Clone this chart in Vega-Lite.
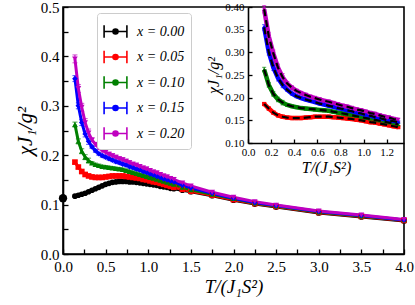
{
"$schema": "https://vega.github.io/schema/vega-lite/v6.json",
"width": 341, "height": 247,
"autosize": "none",
"padding": {"left": 63, "top": 7, "right": 11, "bottom": 51},
"config": {"font": "Liberation Serif", "view": {"stroke": "black", "strokeWidth": 1.6},
  "axis": {"grid": false, "labelFont": "Liberation Serif", "titleFont": "Liberation Serif", "labelFlush": false, "domainColor": "black", "domainWidth": 1.6, "tickColor": "black", "tickWidth": 1.3, "labelColor": "black", "titleColor": "black", "labelOverlap": false, "titleFontWeight": "normal", "titleFontStyle": "italic"},
  "legend": {"labelFont": "Liberation Serif"}},
"datasets": {
"z": [{"T": 0.0, "v": 0.113}],
"d": [
{"s":"x = 0.00","T":0.14,"v":0.117,"e":0.002},{"s":"x = 0.00","T":0.18,"v":0.119,"e":0.002},{"s":"x = 0.00","T":0.22,"v":0.121,"e":0.002},{"s":"x = 0.00","T":0.26,"v":0.123,"e":0.002},{"s":"x = 0.00","T":0.30,"v":0.126,"e":0.002},{"s":"x = 0.00","T":0.34,"v":0.129,"e":0.002},{"s":"x = 0.00","T":0.38,"v":0.132,"e":0.002},{"s":"x = 0.00","T":0.42,"v":0.135,"e":0.002},{"s":"x = 0.00","T":0.46,"v":0.138,"e":0.002},{"s":"x = 0.00","T":0.50,"v":0.141,"e":0.002},{"s":"x = 0.00","T":0.54,"v":0.143,"e":0.002},{"s":"x = 0.00","T":0.58,"v":0.145,"e":0.002},{"s":"x = 0.00","T":0.62,"v":0.146,"e":0.002},{"s":"x = 0.00","T":0.66,"v":0.147,"e":0.002},{"s":"x = 0.00","T":0.70,"v":0.147,"e":0.002},{"s":"x = 0.00","T":0.74,"v":0.147,"e":0.002},{"s":"x = 0.00","T":0.78,"v":0.146,"e":0.002},{"s":"x = 0.00","T":0.82,"v":0.146,"e":0.002},{"s":"x = 0.00","T":0.86,"v":0.145,"e":0.002},{"s":"x = 0.00","T":0.90,"v":0.144,"e":0.002},{"s":"x = 0.00","T":0.94,"v":0.143,"e":0.002},{"s":"x = 0.00","T":0.98,"v":0.142,"e":0.002},{"s":"x = 0.00","T":1.02,"v":0.141,"e":0.002},{"s":"x = 0.00","T":1.06,"v":0.140,"e":0.002},{"s":"x = 0.00","T":1.10,"v":0.139,"e":0.002},{"s":"x = 0.00","T":1.14,"v":0.137,"e":0.002},{"s":"x = 0.00","T":1.18,"v":0.136,"e":0.002},{"s":"x = 0.00","T":1.22,"v":0.135,"e":0.002},{"s":"x = 0.00","T":1.26,"v":0.133,"e":0.002},{"s":"x = 0.00","T":1.30,"v":0.132,"e":0.002},{"s":"x = 0.00","T":1.40,"v":0.129,"e":0.002},{"s":"x = 0.00","T":1.50,"v":0.126,"e":0.002},{"s":"x = 0.00","T":1.75,"v":0.118,"e":0.002},{"s":"x = 0.00","T":2.00,"v":0.109,"e":0.002},{"s":"x = 0.00","T":2.25,"v":0.101,"e":0.002},{"s":"x = 0.00","T":2.50,"v":0.095,"e":0.002},{"s":"x = 0.00","T":3.00,"v":0.083,"e":0.002},{"s":"x = 0.00","T":3.50,"v":0.075,"e":0.002},{"s":"x = 0.00","T":4.00,"v":0.067,"e":0.002},
{"s":"x = 0.05","T":0.14,"v":0.186,"e":0.003},{"s":"x = 0.05","T":0.18,"v":0.176,"e":0.003},{"s":"x = 0.05","T":0.22,"v":0.167,"e":0.003},{"s":"x = 0.05","T":0.26,"v":0.161,"e":0.003},{"s":"x = 0.05","T":0.30,"v":0.158,"e":0.003},{"s":"x = 0.05","T":0.34,"v":0.156,"e":0.002},{"s":"x = 0.05","T":0.38,"v":0.155,"e":0.002},{"s":"x = 0.05","T":0.42,"v":0.155,"e":0.002},{"s":"x = 0.05","T":0.46,"v":0.155,"e":0.002},{"s":"x = 0.05","T":0.50,"v":0.156,"e":0.002},{"s":"x = 0.05","T":0.54,"v":0.157,"e":0.002},{"s":"x = 0.05","T":0.58,"v":0.158,"e":0.002},{"s":"x = 0.05","T":0.62,"v":0.158,"e":0.002},{"s":"x = 0.05","T":0.66,"v":0.158,"e":0.002},{"s":"x = 0.05","T":0.70,"v":0.158,"e":0.002},{"s":"x = 0.05","T":0.74,"v":0.157,"e":0.002},{"s":"x = 0.05","T":0.78,"v":0.156,"e":0.002},{"s":"x = 0.05","T":0.82,"v":0.155,"e":0.002},{"s":"x = 0.05","T":0.86,"v":0.154,"e":0.002},{"s":"x = 0.05","T":0.90,"v":0.153,"e":0.002},{"s":"x = 0.05","T":0.94,"v":0.151,"e":0.002},{"s":"x = 0.05","T":0.98,"v":0.150,"e":0.002},{"s":"x = 0.05","T":1.02,"v":0.148,"e":0.002},{"s":"x = 0.05","T":1.06,"v":0.146,"e":0.002},{"s":"x = 0.05","T":1.10,"v":0.145,"e":0.002},{"s":"x = 0.05","T":1.14,"v":0.143,"e":0.002},{"s":"x = 0.05","T":1.18,"v":0.141,"e":0.002},{"s":"x = 0.05","T":1.22,"v":0.139,"e":0.002},{"s":"x = 0.05","T":1.26,"v":0.137,"e":0.002},{"s":"x = 0.05","T":1.30,"v":0.135,"e":0.002},{"s":"x = 0.05","T":1.40,"v":0.131,"e":0.002},{"s":"x = 0.05","T":1.50,"v":0.127,"e":0.002},{"s":"x = 0.05","T":1.75,"v":0.119,"e":0.002},{"s":"x = 0.05","T":2.00,"v":0.110,"e":0.002},{"s":"x = 0.05","T":2.25,"v":0.102,"e":0.002},{"s":"x = 0.05","T":2.50,"v":0.096,"e":0.002},{"s":"x = 0.05","T":3.00,"v":0.084,"e":0.002},{"s":"x = 0.05","T":3.50,"v":0.076,"e":0.002},{"s":"x = 0.05","T":4.00,"v":0.068,"e":0.002},
{"s":"x = 0.10","T":0.14,"v":0.262,"e":0.005},{"s":"x = 0.10","T":0.18,"v":0.228,"e":0.005},{"s":"x = 0.10","T":0.22,"v":0.208,"e":0.005},{"s":"x = 0.10","T":0.26,"v":0.196,"e":0.005},{"s":"x = 0.10","T":0.30,"v":0.189,"e":0.005},{"s":"x = 0.10","T":0.34,"v":0.184,"e":0.003},{"s":"x = 0.10","T":0.38,"v":0.181,"e":0.003},{"s":"x = 0.10","T":0.42,"v":0.179,"e":0.003},{"s":"x = 0.10","T":0.46,"v":0.177,"e":0.003},{"s":"x = 0.10","T":0.50,"v":0.176,"e":0.003},{"s":"x = 0.10","T":0.54,"v":0.175,"e":0.003},{"s":"x = 0.10","T":0.58,"v":0.174,"e":0.003},{"s":"x = 0.10","T":0.62,"v":0.173,"e":0.003},{"s":"x = 0.10","T":0.66,"v":0.172,"e":0.003},{"s":"x = 0.10","T":0.70,"v":0.171,"e":0.003},{"s":"x = 0.10","T":0.74,"v":0.169,"e":0.003},{"s":"x = 0.10","T":0.78,"v":0.167,"e":0.003},{"s":"x = 0.10","T":0.82,"v":0.165,"e":0.003},{"s":"x = 0.10","T":0.86,"v":0.163,"e":0.003},{"s":"x = 0.10","T":0.90,"v":0.161,"e":0.003},{"s":"x = 0.10","T":0.94,"v":0.159,"e":0.003},{"s":"x = 0.10","T":0.98,"v":0.157,"e":0.003},{"s":"x = 0.10","T":1.02,"v":0.155,"e":0.003},{"s":"x = 0.10","T":1.06,"v":0.153,"e":0.003},{"s":"x = 0.10","T":1.10,"v":0.151,"e":0.003},{"s":"x = 0.10","T":1.14,"v":0.149,"e":0.003},{"s":"x = 0.10","T":1.18,"v":0.147,"e":0.003},{"s":"x = 0.10","T":1.22,"v":0.145,"e":0.003},{"s":"x = 0.10","T":1.26,"v":0.143,"e":0.003},{"s":"x = 0.10","T":1.30,"v":0.141,"e":0.003},{"s":"x = 0.10","T":1.40,"v":0.135,"e":0.002},{"s":"x = 0.10","T":1.50,"v":0.130,"e":0.002},{"s":"x = 0.10","T":1.75,"v":0.121,"e":0.002},{"s":"x = 0.10","T":2.00,"v":0.112,"e":0.002},{"s":"x = 0.10","T":2.25,"v":0.103,"e":0.002},{"s":"x = 0.10","T":2.50,"v":0.097,"e":0.002},{"s":"x = 0.10","T":3.00,"v":0.085,"e":0.002},{"s":"x = 0.10","T":3.50,"v":0.077,"e":0.002},{"s":"x = 0.10","T":4.00,"v":0.069,"e":0.002},
{"s":"x = 0.15","T":0.14,"v":0.355,"e":0.006},{"s":"x = 0.15","T":0.18,"v":0.300,"e":0.006},{"s":"x = 0.15","T":0.22,"v":0.266,"e":0.006},{"s":"x = 0.15","T":0.26,"v":0.243,"e":0.006},{"s":"x = 0.15","T":0.30,"v":0.228,"e":0.006},{"s":"x = 0.15","T":0.34,"v":0.217,"e":0.003},{"s":"x = 0.15","T":0.38,"v":0.209,"e":0.003},{"s":"x = 0.15","T":0.42,"v":0.203,"e":0.003},{"s":"x = 0.15","T":0.46,"v":0.199,"e":0.003},{"s":"x = 0.15","T":0.50,"v":0.196,"e":0.003},{"s":"x = 0.15","T":0.54,"v":0.193,"e":0.003},{"s":"x = 0.15","T":0.58,"v":0.190,"e":0.003},{"s":"x = 0.15","T":0.62,"v":0.187,"e":0.003},{"s":"x = 0.15","T":0.66,"v":0.185,"e":0.003},{"s":"x = 0.15","T":0.70,"v":0.182,"e":0.003},{"s":"x = 0.15","T":0.74,"v":0.180,"e":0.003},{"s":"x = 0.15","T":0.78,"v":0.177,"e":0.003},{"s":"x = 0.15","T":0.82,"v":0.175,"e":0.003},{"s":"x = 0.15","T":0.86,"v":0.172,"e":0.003},{"s":"x = 0.15","T":0.90,"v":0.170,"e":0.003},{"s":"x = 0.15","T":0.94,"v":0.167,"e":0.003},{"s":"x = 0.15","T":0.98,"v":0.165,"e":0.003},{"s":"x = 0.15","T":1.02,"v":0.162,"e":0.003},{"s":"x = 0.15","T":1.06,"v":0.160,"e":0.003},{"s":"x = 0.15","T":1.10,"v":0.157,"e":0.003},{"s":"x = 0.15","T":1.14,"v":0.155,"e":0.003},{"s":"x = 0.15","T":1.18,"v":0.152,"e":0.003},{"s":"x = 0.15","T":1.22,"v":0.150,"e":0.003},{"s":"x = 0.15","T":1.26,"v":0.148,"e":0.003},{"s":"x = 0.15","T":1.30,"v":0.146,"e":0.003},{"s":"x = 0.15","T":1.40,"v":0.139,"e":0.002},{"s":"x = 0.15","T":1.50,"v":0.134,"e":0.002},{"s":"x = 0.15","T":1.75,"v":0.123,"e":0.002},{"s":"x = 0.15","T":2.00,"v":0.113,"e":0.002},{"s":"x = 0.15","T":2.25,"v":0.104,"e":0.002},{"s":"x = 0.15","T":2.50,"v":0.098,"e":0.002},{"s":"x = 0.15","T":3.00,"v":0.086,"e":0.002},{"s":"x = 0.15","T":3.50,"v":0.078,"e":0.002},{"s":"x = 0.15","T":4.00,"v":0.069,"e":0.002},
{"s":"x = 0.20","T":0.14,"v":0.395,"e":0.008},{"s":"x = 0.20","T":0.18,"v":0.335,"e":0.008},{"s":"x = 0.20","T":0.22,"v":0.297,"e":0.008},{"s":"x = 0.20","T":0.26,"v":0.266,"e":0.008},{"s":"x = 0.20","T":0.30,"v":0.245,"e":0.008},{"s":"x = 0.20","T":0.34,"v":0.231,"e":0.004},{"s":"x = 0.20","T":0.38,"v":0.222,"e":0.004},{"s":"x = 0.20","T":0.42,"v":0.215,"e":0.004},{"s":"x = 0.20","T":0.46,"v":0.210,"e":0.004},{"s":"x = 0.20","T":0.50,"v":0.206,"e":0.004},{"s":"x = 0.20","T":0.54,"v":0.202,"e":0.004},{"s":"x = 0.20","T":0.58,"v":0.199,"e":0.004},{"s":"x = 0.20","T":0.62,"v":0.196,"e":0.004},{"s":"x = 0.20","T":0.66,"v":0.193,"e":0.004},{"s":"x = 0.20","T":0.70,"v":0.191,"e":0.004},{"s":"x = 0.20","T":0.74,"v":0.188,"e":0.004},{"s":"x = 0.20","T":0.78,"v":0.185,"e":0.004},{"s":"x = 0.20","T":0.82,"v":0.182,"e":0.004},{"s":"x = 0.20","T":0.86,"v":0.180,"e":0.004},{"s":"x = 0.20","T":0.90,"v":0.177,"e":0.004},{"s":"x = 0.20","T":0.94,"v":0.174,"e":0.004},{"s":"x = 0.20","T":0.98,"v":0.172,"e":0.004},{"s":"x = 0.20","T":1.02,"v":0.169,"e":0.004},{"s":"x = 0.20","T":1.06,"v":0.166,"e":0.004},{"s":"x = 0.20","T":1.10,"v":0.164,"e":0.004},{"s":"x = 0.20","T":1.14,"v":0.161,"e":0.004},{"s":"x = 0.20","T":1.18,"v":0.158,"e":0.004},{"s":"x = 0.20","T":1.22,"v":0.156,"e":0.004},{"s":"x = 0.20","T":1.26,"v":0.153,"e":0.004},{"s":"x = 0.20","T":1.30,"v":0.151,"e":0.004},{"s":"x = 0.20","T":1.40,"v":0.144,"e":0.002},{"s":"x = 0.20","T":1.50,"v":0.138,"e":0.002},{"s":"x = 0.20","T":1.75,"v":0.125,"e":0.002},{"s":"x = 0.20","T":2.00,"v":0.115,"e":0.002},{"s":"x = 0.20","T":2.25,"v":0.106,"e":0.002},{"s":"x = 0.20","T":2.50,"v":0.099,"e":0.002},{"s":"x = 0.20","T":3.00,"v":0.087,"e":0.002},{"s":"x = 0.20","T":3.50,"v":0.079,"e":0.002},{"s":"x = 0.20","T":4.00,"v":0.070,"e":0.002}
]},
"layer": [
{
 "data": {"name": "d"},
 "encoding": {
  "x": {"field": "T", "type": "quantitative", "scale": {"domain": [0, 4], "nice": false},
   "axis": {"values": [0,0.25,0.5,0.75,1,1.25,1.5,1.75,2,2.25,2.5,2.75,3,3.25,3.5,3.75,4], "labelExpr": "datum.value % 0.5 === 0 ? format(datum.value, '.1f') : ''", "tickSize": -5, "labelPadding": 10, "labelFontSize": 15, "title": "T/(J₁S²)", "titleFontSize": 19, "titlePadding": 3}},
  "y": {"field": "v", "type": "quantitative", "scale": {"domain": [0, 0.5], "nice": false, "zero": false},
   "axis": {"values": [0,0.05,0.1,0.15,0.2,0.25,0.3,0.35,0.4,0.45,0.5], "labelExpr": "round(datum.value*100) % 10 === 0 ? format(datum.value, '.1f') : ''", "tickSize": -5, "labelPadding": 9, "labelFontSize": 15, "title": "χJ₁/g²", "titleFontSize": 21, "titlePadding": 5}},
  "color": {"field": "s", "type": "nominal", "scale": {"domain": ["x = 0.00","x = 0.05","x = 0.10","x = 0.15","x = 0.20"], "range": ["#000000","#ff0000","#008000","#0000ff","#bf00bf"]},
   "legend": {"title": null, "orient": "none", "legendX": 34, "legendY": 6, "symbolType": "M-1,0H1M-1,-0.55V0.55M1,-0.55V0.55M0.22,0A0.22,0.22 0 1 1 -0.22,0A0.22,0.22 0 1 1 0.22,0Z", "symbolSize": 520, "symbolStrokeWidth": 1.6, "labelFontSize": 14, "labelFontStyle": "italic", "labelFont": "Liberation Serif", "labelFontWeight": "normal", "rowPadding": 3.5, "padding": 6, "strokeColor": "#cccccc", "fillColor": "white", "cornerRadius": 3, "labelOffset": 9,
    "encode": {"symbols": {"update": {"stroke": {"scale": "color", "field": "value"}, "fill": {"scale": "color", "field": "value"}, "opacity": {"value": 1}}}}}}
 },
 "layer": [
  {"mark": {"type": "errorbar", "ticks": {"size": 5}, "thickness": 1}, "encoding": {"yError": {"field": "e"}}},
  {"mark": {"type": "line", "strokeWidth": 3}},
  {"mark": {"type": "point", "filled": true, "size": 32, "opacity": 1},
   "encoding": {"shape": {"field": "s", "type": "nominal", "legend": null, "scale": {"range": ["circle","square","triangle-up","diamond","triangle-down"]}}}},
  {"data": {"name": "z"}, "mark": {"type": "point", "filled": true, "size": 70, "color": "black", "opacity": 1}, "encoding": {"color": {"value": "black"}}}
 ]
},
{
 "data": {"name": "d"},
 "transform": [{"filter": "datum.T <= 1.35 && datum.s !== 'x = 0.00'"}],
 "encoding": {
  "x": {"field": "T", "type": "quantitative", "scale": {"domain": [0, 1.35], "nice": false, "range": [185, 341]},
   "axis": {"orient": "bottom", "offset": -111, "values": [0,0.2,0.4,0.6,0.8,1.0,1.2], "format": ".1f", "tickSize": -4, "labelPadding": 7, "labelFontSize": 11, "title": "T/(J₁S²)", "titleFontSize": 16, "titlePadding": 2}},
  "y": {"field": "v", "type": "quantitative", "scale": {"domain": [0.1, 0.4], "nice": false, "zero": false, "range": [136, 0]},
   "axis": {"orient": "left", "offset": -185, "values": [0.1,0.15,0.2,0.25,0.3,0.35,0.4], "format": ".2f", "tickSize": -4, "labelPadding": 8, "labelFontSize": 11, "title": "χJ₁/g²", "titleFontSize": 16, "titlePadding": 3}},
  "color": {"field": "s", "type": "nominal"}
 },
 "layer": [
  {"mark": {"type": "errorbar", "ticks": {"size": 4}, "thickness": 1}, "encoding": {"yError": {"field": "e"}}},
  {"mark": {"type": "line", "strokeWidth": 4.5}},
  {"mark": {"type": "point", "filled": true, "size": 18, "opacity": 1},
   "encoding": {"shape": {"field": "s", "type": "nominal", "legend": null}}},
  {"mark": {"type": "line", "strokeWidth": 2.2, "strokeDash": [7, 4], "color": "black"}, "encoding": {"detail": {"field": "s"}, "color": {"value": "black"}}}
 ]
}
],
"resolve": {"scale": {"x": "independent", "y": "independent"}, "axis": {"x": "independent", "y": "independent"}}
}
